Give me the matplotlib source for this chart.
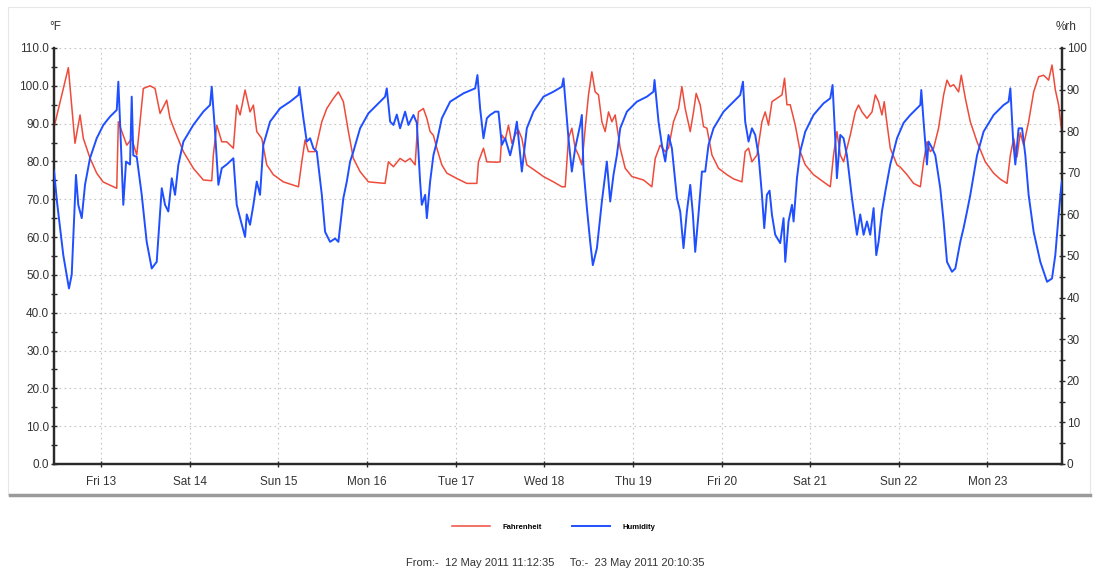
import matplotlib.pyplot as plt
import numpy as np
from matplotlib.ticker import MultipleLocator, FormatStrFormatter
from matplotlib.lines import Line2D
from matplotlib.patches import Rectangle

plt.rcParams["font.family"] = ["Liberation Sans", "DejaVu Sans"]

# time axis: days since 12 May 2011 00:00
start_day = 0.4671   # 12 May 11:12:35
end_day = 11.8407    # 23 May 20:10:35
day_ticks = [1, 2, 3, 4, 5, 6, 7, 8, 9, 10, 11]
day_labels = ["Fri 13", "Sat 14", "Sun 15", "Mon 16", "Tue 17", "Wed 18",
              "Thu 19", "Fri 20", "Sat 21", "Sun 22", "Mon 23"]

# Fahrenheit series
temp_days = [0.467, 0.629, 0.704, 0.761, 0.798, 0.873, 0.949, 1.020, 1.175, 1.193,
             1.288, 1.344, 1.401, 1.475, 1.551, 1.607, 1.664, 1.739, 1.776, 1.833,
             1.927, 2.039, 2.152, 2.247, 2.265, 2.304, 2.360, 2.416, 2.491, 2.529,
             2.567, 2.623, 2.679, 2.717, 2.755, 2.811, 2.868, 2.942, 3.055, 3.225,
             3.263, 3.300, 3.337, 3.413, 3.489, 3.545, 3.620, 3.676, 3.732, 3.789,
             3.845, 3.921, 4.015, 4.203, 4.240, 4.297, 4.372, 4.429, 4.485, 4.542,
             4.579, 4.635, 4.674, 4.711, 4.748, 4.787, 4.843, 4.900, 5.012, 5.125,
             5.238, 5.256, 5.313, 5.351, 5.464, 5.501, 5.520, 5.558, 5.595, 5.633,
             5.670, 5.708, 5.746, 5.802, 5.877, 5.990, 6.103, 6.198, 6.235, 6.272,
             6.310, 6.348, 6.385, 6.423, 6.461, 6.498, 6.536, 6.573, 6.611, 6.649,
             6.686, 6.724, 6.762, 6.799, 6.856, 6.912, 6.988, 7.119, 7.213, 7.251,
             7.307, 7.364, 7.401, 7.457, 7.514, 7.552, 7.589, 7.646, 7.683, 7.713,
             7.759, 7.796, 7.834, 7.891, 7.965, 8.060, 8.134, 8.229, 8.266, 8.304,
             8.342, 8.399, 8.455, 8.492, 8.529, 8.568, 8.624, 8.681, 8.710, 8.737,
             8.774, 8.831, 8.887, 8.944, 9.037, 9.150, 9.226, 9.263, 9.301, 9.339,
             9.376, 9.452, 9.508, 9.545, 9.584, 9.640, 9.697, 9.734, 9.771, 9.809,
             9.835, 9.858, 9.903, 9.979, 10.016, 10.092, 10.166, 10.242, 10.279, 10.317,
             10.355, 10.392, 10.448, 10.505, 10.543, 10.580, 10.618, 10.674, 10.704, 10.750,
             10.806, 10.882, 10.975, 11.069, 11.145, 11.220, 11.258, 11.295, 11.333, 11.370,
             11.408, 11.464, 11.521, 11.577, 11.633, 11.690, 11.728, 11.765, 11.803, 11.840]
temp_f = [89.0, 104.8, 84.8, 92.3, 86.1, 80.9, 76.9, 74.6, 72.9, 90.5,
          84.3, 86.0, 81.7, 99.3, 100.0, 99.3, 92.7, 96.2, 91.4, 87.9,
          82.6, 78.2, 75.1, 74.9, 81.7, 89.6, 85.2, 85.2, 83.5, 94.9,
          92.3, 98.9, 93.1, 94.9, 87.9, 86.1, 79.1, 76.5, 74.6, 73.3,
          79.9, 85.7, 82.6, 82.6, 90.5, 94.0, 96.7, 98.4, 95.8, 87.9,
          80.8, 77.3, 74.6, 74.2, 79.9, 78.6, 80.8, 79.9, 80.8, 79.1,
          93.1, 94.0, 91.4, 87.9, 86.9, 83.5, 79.1, 76.9, 75.5, 74.2,
          74.2, 79.9, 83.5, 79.9, 79.8, 79.9, 87.0, 85.7, 89.6, 84.8,
          87.0, 88.3, 86.1, 79.1, 77.9, 76.0, 74.6, 73.3, 73.3, 86.1,
          88.8, 83.5, 81.7, 79.1, 88.8, 97.6, 103.7, 98.4, 97.6, 90.5,
          87.9, 93.1, 90.5, 92.3, 83.5, 78.2, 76.0, 75.1, 73.3, 80.8,
          84.3, 82.6, 83.5, 90.5, 94.0, 99.8, 94.0, 87.9, 93.1, 98.0,
          94.9, 89.2, 88.8, 81.7, 78.2, 76.5, 75.4, 74.6, 82.6, 83.5,
          79.9, 81.7, 90.5, 93.1, 89.6, 95.8, 96.7, 97.6, 102.0, 95.0,
          95.0, 89.6, 82.6, 79.1, 76.5, 74.6, 73.3, 81.7, 87.9, 81.7,
          79.9, 87.0, 93.1, 94.9, 93.1, 91.4, 93.1, 97.6, 95.8, 92.3,
          95.8, 91.4, 83.5, 79.1, 78.5, 76.5, 74.2, 73.3, 79.9, 85.2,
          82.6, 83.5, 88.8, 97.6, 101.5, 99.8, 100.3, 98.4, 102.8, 96.7,
          90.5, 85.2, 79.9, 76.9, 75.3, 74.2, 81.7, 86.1, 81.2, 87.6,
          84.3, 90.5, 98.4, 102.4, 102.8, 101.5, 105.5, 99.0, 94.9, 87.4]

# Humidity series
hum_days = [0.467, 0.501, 0.572, 0.636, 0.667, 0.715, 0.741, 0.780, 0.817, 0.873,
            0.949, 1.024, 1.099, 1.175, 1.193, 1.212, 1.249, 1.280, 1.325, 1.344,
            1.362, 1.401, 1.457, 1.513, 1.570, 1.626, 1.683, 1.720, 1.757, 1.796,
            1.833, 1.870, 1.927, 2.039, 2.152, 2.228, 2.247, 2.284, 2.322, 2.360,
            2.416, 2.491, 2.529, 2.567, 2.623, 2.642, 2.679, 2.717, 2.755, 2.792,
            2.829, 2.905, 3.018, 3.131, 3.225, 3.236, 3.281, 3.319, 3.357, 3.394,
            3.432, 3.489, 3.526, 3.582, 3.639, 3.676, 3.732, 3.771, 3.808, 3.845,
            3.921, 4.015, 4.109, 4.203, 4.222, 4.260, 4.297, 4.335, 4.372, 4.429,
            4.466, 4.523, 4.561, 4.598, 4.617, 4.655, 4.674, 4.711, 4.748, 4.787,
            4.843, 4.937, 5.087, 5.219, 5.245, 5.275, 5.313, 5.351, 5.388, 5.445,
            5.482, 5.520, 5.558, 5.614, 5.651, 5.690, 5.727, 5.746, 5.802, 5.877,
            5.990, 6.103, 6.198, 6.216, 6.272, 6.310, 6.348, 6.404, 6.423, 6.441,
            6.480, 6.517, 6.547, 6.593, 6.649, 6.705, 6.743, 6.780, 6.818, 6.856,
            6.931, 7.044, 7.157, 7.231, 7.243, 7.288, 7.326, 7.364, 7.401, 7.439,
            7.496, 7.533, 7.570, 7.608, 7.646, 7.676, 7.702, 7.739, 7.778, 7.815,
            7.852, 7.909, 8.022, 8.134, 8.210, 8.241, 8.266, 8.304, 8.342, 8.379,
            8.417, 8.455, 8.481, 8.511, 8.541, 8.568, 8.605, 8.661, 8.699, 8.718,
            8.755, 8.794, 8.812, 8.850, 8.887, 8.944, 9.037, 9.150, 9.226, 9.252,
            9.282, 9.301, 9.339, 9.376, 9.414, 9.471, 9.527, 9.564, 9.602, 9.640,
            9.677, 9.715, 9.745, 9.771, 9.809, 9.847, 9.903, 9.979, 10.053, 10.129,
            10.242, 10.253, 10.279, 10.317, 10.335, 10.374, 10.411, 10.467, 10.505, 10.543,
            10.599, 10.637, 10.693, 10.730, 10.769, 10.806, 10.882, 10.956, 11.069, 11.182,
            11.238, 11.258, 11.288, 11.314, 11.351, 11.390, 11.427, 11.464, 11.521, 11.596,
            11.672, 11.728, 11.765, 11.803, 11.830, 11.840]
hum_rh = [70.5, 63.0, 50.2, 42.2, 45.5, 69.5, 62.3, 59.1, 67.1, 73.5,
          78.3, 81.5, 83.5, 85.1, 91.9, 82.3, 62.3, 72.7, 72.0, 88.3,
          74.2, 73.8, 64.7, 53.4, 47.0, 48.6, 66.3, 62.3, 60.7, 68.7,
          64.7, 71.9, 77.5, 81.5, 84.7, 86.3, 90.7, 79.9, 67.1, 71.1,
          72.0, 73.5, 62.3, 59.1, 54.6, 60.0, 57.5, 62.3, 67.9, 64.7,
          76.7, 82.3, 85.5, 87.1, 88.7, 90.6, 83.1, 77.5, 78.3, 75.9,
          75.1, 64.7, 55.8, 53.4, 54.2, 53.4, 63.9, 67.9, 72.7, 75.1,
          80.7, 84.3, 86.3, 88.3, 90.3, 82.3, 81.5, 84.0, 80.7, 84.7,
          81.5, 83.9, 82.0, 67.9, 62.3, 64.7, 59.1, 67.9, 74.2, 77.5,
          83.1, 87.1, 89.1, 90.3, 93.5, 85.5, 78.3, 83.1, 83.9, 84.7,
          84.7, 76.7, 78.3, 74.2, 77.5, 82.3, 74.2, 70.3, 80.7, 84.7,
          88.3, 89.5, 90.7, 92.7, 78.3, 70.3, 75.9, 81.5, 83.9, 71.1,
          61.5, 53.4, 47.8, 51.9, 63.1, 72.7, 63.1, 69.5, 74.2, 80.7,
          84.7, 87.1, 88.3, 89.5, 92.3, 82.3, 76.7, 72.7, 79.1, 75.9,
          63.9, 60.7, 51.9, 60.7, 67.1, 60.0, 51.0, 60.0, 70.3, 70.3,
          76.7, 80.7, 84.7, 87.1, 88.7, 91.9, 82.3, 77.5, 80.7, 79.1,
          74.2, 64.7, 56.7, 64.7, 65.7, 59.9, 55.1, 53.1, 59.1, 48.6,
          58.3, 62.3, 58.3, 68.7, 75.1, 79.9, 83.9, 86.7, 87.9, 91.1,
          78.3, 68.7, 79.1, 78.3, 74.2, 63.9, 55.1, 60.0, 55.1, 58.3,
          55.1, 61.5, 50.2, 53.4, 60.7, 65.5, 72.0, 78.3, 82.0, 83.9,
          86.3, 89.9, 82.3, 72.0, 77.5, 76.0, 74.2, 66.3, 58.3, 48.6,
          46.2, 47.0, 53.4, 56.7, 60.7, 64.7, 74.2, 79.9, 83.9, 86.3,
          87.1, 90.3, 78.3, 72.0, 80.7, 80.7, 74.2, 64.7, 55.8, 48.6,
          43.8, 44.6, 50.2, 59.9, 66.3, 68.0]

RED = "#ee4b3b"
BLUE = "#1f4fff"
TEXT = "#333333"
AXIS = "#2a2a2a"

fig = plt.figure(figsize=(10.96, 5.71), dpi=100)
ax = fig.add_axes([54 / 1096, 1 - 464 / 571, (1062 - 54) / 1096, (464 - 48) / 571])
ax2 = ax.twinx()

# outer frame of the chart panel
fig.patches.append(Rectangle((8 / 1096, 1 - 495 / 571), 1082 / 1096, 488 / 571,
                             transform=fig.transFigure, fill=False,
                             edgecolor="#e6e6e6", linewidth=0.8))
fig.lines.append(Line2D([10 / 1096, 1090 / 1096], [1 - 495 / 571] * 2,
                        transform=fig.transFigure, color="#9a9a9a", linewidth=2.5))

ax.plot(temp_days, temp_f, color=RED, linewidth=1.1, zorder=3)
ax2.plot(hum_days, hum_rh, color=BLUE, linewidth=1.4, zorder=3)

ax.set_xlim(start_day, end_day)
ax.set_ylim(0, 110)
ax2.set_ylim(0, 100)

ax.set_xticks(day_ticks)
ax.set_xticklabels(day_labels)
ax.yaxis.set_major_locator(MultipleLocator(10))
ax.yaxis.set_minor_locator(MultipleLocator(5))
ax.yaxis.set_major_formatter(FormatStrFormatter("%.1f"))
ax2.yaxis.set_major_locator(MultipleLocator(10))
ax2.yaxis.set_minor_locator(MultipleLocator(5))

ax.grid(True, which="major", linestyle=(0, (1.5, 3)), color="#c4c4c4", linewidth=0.8)

for a in (ax, ax2):
    a.set_facecolor("none")
    a.spines["top"].set_visible(False)
    for s in ("left", "right", "bottom"):
        a.spines[s].set_color(AXIS)
        a.spines[s].set_linewidth(1.6)
    a.tick_params(which="both", direction="inout", color=AXIS, labelsize=8.5,
                  labelcolor=TEXT, width=1.0)
    a.tick_params(which="major", length=5)
    a.tick_params(which="minor", length=4)
ax.tick_params(axis="x", pad=6)
ax.tick_params(axis="y", pad=1)
ax2.tick_params(axis="y", pad=1)

fig.text(55 / 1096, 1 - 27 / 571, "°F", fontsize=8.5, color=TEXT, ha="center", va="center")
fig.text(1066 / 1096, 1 - 27 / 571, "%rh", fontsize=8.5, color=TEXT, ha="center", va="center")

handles = [Line2D([], [], color=RED, linewidth=1.1), Line2D([], [], color=BLUE, linewidth=1.4)]
fig.legend(handles, ["Fahrenheit", "Humidity"], loc="center", bbox_to_anchor=(0.505, 1 - 527 / 571),
           ncol=2, frameon=False, prop={"size": 5.5, "weight": "bold"},
           handlelength=5.0, handletextpad=1.6, columnspacing=4.0)

fig.text(555 / 1096, 1 - 563 / 571,
         "From:-  12 May 2011 11:12:35     To:-  23 May 2011 20:10:35",
         fontsize=8, color=TEXT, ha="center", va="center")

fig.savefig("out.png", dpi=100)
